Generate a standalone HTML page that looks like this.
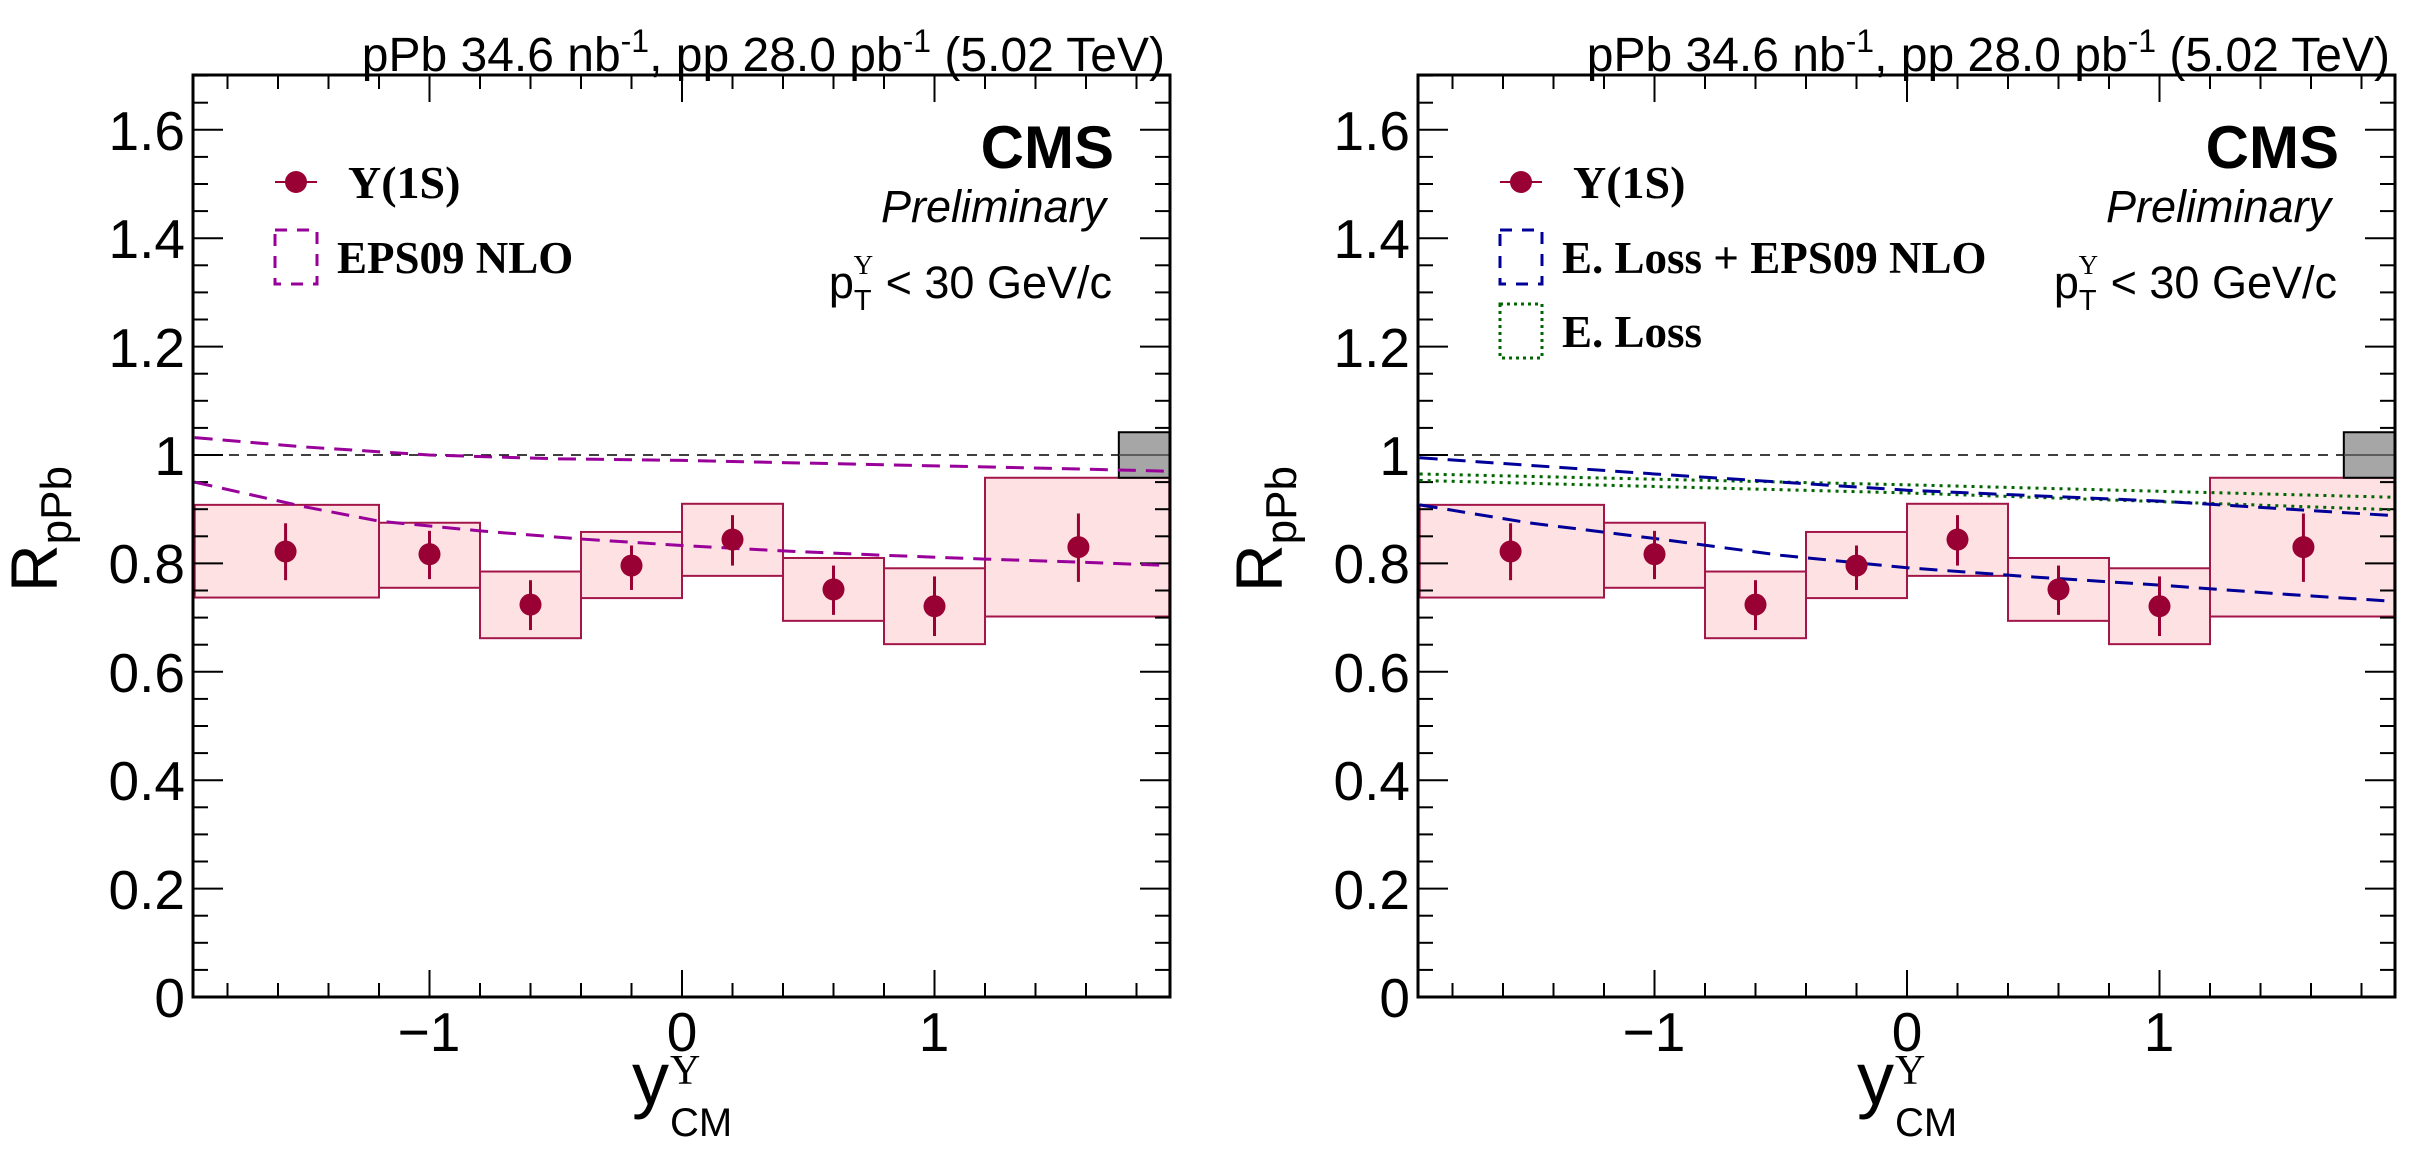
<!DOCTYPE html>
<html><head><meta charset="utf-8"><style>
html,body{margin:0;padding:0;background:#fff;}
svg{display:block;}
text{font-family:"Liberation Sans",sans-serif;fill:#000;}
.serif{font-family:"Liberation Serif",serif;font-weight:bold;}
.ups{font-family:"Liberation Serif",serif;font-weight:normal;}
</style></head><body>
<svg id="s" width="2435" height="1160" viewBox="0 0 2435 1160" xmlns="http://www.w3.org/2000/svg">
<g id="p0">
 <text x="1165" y="71" font-size="48" text-anchor="end">pPb 34.6 nb<tspan font-size="32" dy="-19">-1</tspan><tspan dy="19">, pp 28.0 pb</tspan><tspan font-size="32" dy="-19">-1</tspan><tspan dy="19"> (5.02 TeV)</tspan></text>
 <text x="1114" y="168" font-size="60" font-weight="bold" text-anchor="end">CMS</text>
 <text x="1106" y="222" font-size="45" font-style="italic" text-anchor="end">Preliminary</text>
 <text x="1112" y="298" font-size="45" text-anchor="end">p<tspan font-size="29" dy="12">T</tspan><tspan class="ups" font-size="27" dx="-18" dy="-36">Υ</tspan><tspan dy="24"> &lt; 30 GeV/c</tspan></text>
 <text transform="translate(57,592) rotate(-90)" font-size="66">R<tspan font-size="44" dy="14">pPb</tspan></text>
 <text x="632" y="1104" font-size="74">y</text>
 <text x="670" y="1084" font-size="42" class="ups">Υ</text>
 <text x="670" y="1136" font-size="40">CM</text>
 <g font-size="55" text-anchor="end">
  <text x="185" y="1017">0</text><text x="185" y="909">0.2</text><text x="185" y="800">0.4</text><text x="185" y="692">0.6</text><text x="185" y="583">0.8</text><text x="185" y="475">1</text><text x="185" y="367">1.2</text><text x="185" y="258">1.4</text><text x="185" y="150">1.6</text>
 </g>
 <g font-size="55" text-anchor="middle">
  <text x="429" y="1051">−1</text><text x="682" y="1051">0</text><text x="934" y="1051">1</text>
 </g>
</g>
<g id="p1" transform="translate(1225,0)">
 <text x="1165" y="71" font-size="48" text-anchor="end">pPb 34.6 nb<tspan font-size="32" dy="-19">-1</tspan><tspan dy="19">, pp 28.0 pb</tspan><tspan font-size="32" dy="-19">-1</tspan><tspan dy="19"> (5.02 TeV)</tspan></text>
 <text x="1114" y="168" font-size="60" font-weight="bold" text-anchor="end">CMS</text>
 <text x="1106" y="222" font-size="45" font-style="italic" text-anchor="end">Preliminary</text>
 <text x="1112" y="298" font-size="45" text-anchor="end">p<tspan font-size="29" dy="12">T</tspan><tspan class="ups" font-size="27" dx="-18" dy="-36">Υ</tspan><tspan dy="24"> &lt; 30 GeV/c</tspan></text>
 <text transform="translate(57,592) rotate(-90)" font-size="66">R<tspan font-size="44" dy="14">pPb</tspan></text>
 <text x="632" y="1104" font-size="74">y</text>
 <text x="670" y="1084" font-size="42" class="ups">Υ</text>
 <text x="670" y="1136" font-size="40">CM</text>
 <g font-size="55" text-anchor="end">
  <text x="185" y="1017">0</text><text x="185" y="909">0.2</text><text x="185" y="800">0.4</text><text x="185" y="692">0.6</text><text x="185" y="583">0.8</text><text x="185" y="475">1</text><text x="185" y="367">1.2</text><text x="185" y="258">1.4</text><text x="185" y="150">1.6</text>
 </g>
 <g font-size="55" text-anchor="middle">
  <text x="429" y="1051">−1</text><text x="682" y="1051">0</text><text x="934" y="1051">1</text>
 </g>
</g>
<g id="leg0">
 <text class="serif" x="348" y="198" font-size="46">Υ(1S)</text>
 <text class="serif" x="337" y="273" font-size="45">EPS09 NLO</text>
</g>
<g id="leg1" transform="translate(1225,0)">
 <text class="serif" x="348" y="198" font-size="46">Υ(1S)</text>
 <text class="serif" x="337" y="273" font-size="45">E. Loss + EPS09 NLO</text>
 <text class="serif" x="337" y="347" font-size="45">E. Loss</text>
</g>
</svg>
<script>
(function(){
var NS="http://www.w3.org/2000/svg",svg=document.getElementById('s');
function el(t,a,p){var e=document.createElementNS(NS,t);for(var k in a)e.setAttribute(k,a[k]);(p||svg).appendChild(e);return e;}
var X0=193,X1=1170,Y0=997,YT=75;
var pts=[[-1.57,0.822,0.908,0.737,0.874,0.769,-1.93,-1.2],[-1,0.817,0.875,0.755,0.860,0.771,-1.2,-0.8],[-0.6,0.724,0.785,0.662,0.769,0.677,-0.8,-0.4],[-0.2,0.796,0.858,0.736,0.833,0.751,-0.4,0],[0.2,0.844,0.910,0.777,0.889,0.796,0,0.4],[0.6,0.752,0.810,0.694,0.796,0.705,0.4,0.8],[1.0,0.721,0.791,0.651,0.776,0.666,0.8,1.2],[1.57,0.830,0.958,0.702,0.892,0.766,1.2,1.93]];
var curves=[
 [[["#990099","18,10",3],[[-1.93,1.032],[-1.5,1.015],[-1,1.0],[-0.5,0.993],[0,0.99],[0.5,0.985],[1,0.98],[1.5,0.975],[1.93,0.97]]],
  [["#990099","18,10",3],[[-1.93,0.95],[-1.5,0.905],[-1.2,0.878],[-0.8,0.86],[-0.4,0.845],[0,0.833],[0.4,0.823],[0.8,0.815],[1.2,0.808],[1.6,0.802],[1.93,0.796]]]],
 [[["#006600","3,5",3],[[-1.93,0.965],[0,0.945],[1.93,0.922]]],
  [["#006600","3,5",3],[[-1.93,0.953],[0,0.93],[1.93,0.899]]],
  [["#000099","18,10",3],[[-1.93,0.995],[-1,0.965],[0,0.935],[1,0.915],[1.93,0.888]]],
  [["#000099","18,10",3],[[-1.93,0.908],[-1.5,0.875],[-1,0.846],[-0.5,0.815],[0,0.792],[0.5,0.775],[1,0.76],[1.5,0.743],[1.93,0.73]]]]];
for(var p=0;p<2;p++){
 var g=el('g',{transform:'translate('+(p*1225)+',0)'});
 function X(v){return Math.min(X1,Math.max(X0,682+v*252.5));}
 function Y(v){return Y0-v*542;}
 pts.forEach(function(d){el('rect',{x:X(d[6]),y:Y(d[2]),width:X(d[7])-X(d[6]),height:Y(d[3])-Y(d[2]),fill:'#fde1e3',stroke:'#a3164a','stroke-width':2},g);});
 for(var i=0;i<=34;i++){var v=i*0.05,yy=Y(v),L=(i%4==0)?30:15;
  el('line',{x1:X0,x2:X0+L,y1:yy,y2:yy,stroke:'#000','stroke-width':2},g);
  el('line',{x1:X1-L,x2:X1,y1:yy,y2:yy,stroke:'#000','stroke-width':2},g);}
 for(var i=-9;i<=9;i++){var v=i*0.2,xx=X(v),L=(i%5==0)?27:14;
  el('line',{x1:xx,x2:xx,y1:Y0,y2:Y0-L,stroke:'#000','stroke-width':2},g);
  el('line',{x1:xx,x2:xx,y1:YT,y2:YT+L,stroke:'#000','stroke-width':2},g);}
 el('line',{x1:X0,x2:X1,y1:Y(1),y2:Y(1),stroke:'#000','stroke-width':1.5,'stroke-dasharray':'10,8'},g);
 el('rect',{x:X(1.73),y:Y(1.042),width:X1-X(1.73),height:Y(0.958)-Y(1.042),fill:'#a6a6a6',stroke:'#000','stroke-width':2},g);
 el('line',{x1:X(1.73),x2:X1,y1:Y(1),y2:Y(1),stroke:'#444','stroke-width':1.5},g);
 curves[p].forEach(function(c){var s=c[1].map(function(q){return X(q[0])+','+Y(q[1]);}).join(' ');
  el('polyline',{points:s,fill:'none',stroke:c[0][0],'stroke-width':c[0][2],'stroke-dasharray':c[0][1]},g);});
 pts.forEach(function(d){el('line',{x1:X(d[0]),x2:X(d[0]),y1:Y(d[4]),y2:Y(d[5]),stroke:'#990033','stroke-width':3},g);
  el('circle',{cx:X(d[0]),cy:Y(d[1]),r:11,fill:'#990033'},g);});
 el('rect',{x:X0,y:YT,width:X1-X0,height:Y0-YT,fill:'none',stroke:'#000','stroke-width':3},g);
 el('line',{x1:275,x2:317,y1:182,y2:182,stroke:'#990033','stroke-width':2},g);
 el('circle',{cx:296,cy:182,r:11,fill:'#990033'},g);
 if(p==0){el('rect',{x:275,y:230,width:42,height:54,fill:'none',stroke:'#990099','stroke-width':3,'stroke-dasharray':'12,10'},g);}
 else{el('rect',{x:275,y:230,width:42,height:54,fill:'none',stroke:'#000099','stroke-width':3,'stroke-dasharray':'12,10'},g);
  el('rect',{x:275,y:304,width:42,height:54,fill:'none',stroke:'#006600','stroke-width':3,'stroke-dasharray':'3,4'},g);}
}
})();
</script>
</body></html>
